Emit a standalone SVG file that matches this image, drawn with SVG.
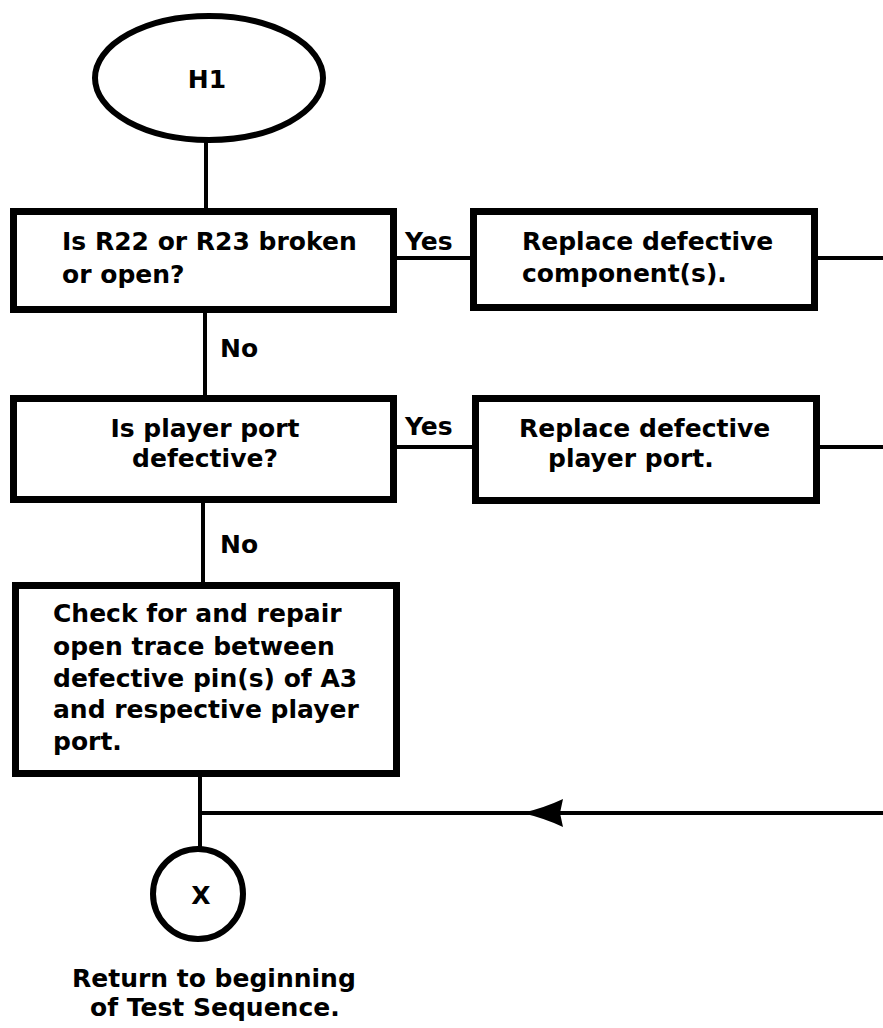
<svg xmlns="http://www.w3.org/2000/svg" width="883" height="1028" viewBox="0 0 883 1028">
<style>
.box{fill:#fff;stroke:#000;stroke-width:7}
.term{fill:#fff;stroke:#000;stroke-width:6}
.ln{fill:none;stroke:#000;stroke-width:4}
text{font-family:"DejaVu Sans","Liberation Sans",sans-serif;font-size:25px;font-weight:bold;fill:#000}
.c{text-anchor:middle}
</style>
<defs>
<marker id="arr" markerUnits="userSpaceOnUse" markerWidth="50" markerHeight="30" viewBox="-45 -15 50 30" refX="0" refY="0" orient="auto">
<path d="M0,0 Q-22,-5 -41,-14 L-38,0 L-41,14 Q-22,5 0,0 Z" fill="#000"/>
</marker>
</defs>
<g id="connectors">
<line class="ln" x1="206" y1="140" x2="206" y2="211"/>
<line class="ln" x1="397" y1="258" x2="473" y2="258"/>
<line class="ln" x1="815" y1="258" x2="883" y2="258"/>
<line class="ln" x1="205" y1="310" x2="205" y2="398"/>
<line class="ln" x1="397" y1="447" x2="475" y2="447"/>
<line class="ln" x1="817" y1="447" x2="883" y2="447"/>
<line class="ln" x1="203" y1="500" x2="203" y2="585"/>
<line class="ln" x1="200" y1="774" x2="200" y2="849"/>
<path class="ln" d="M883,813 L522,813 L200,813" marker-mid="url(#arr)"/>
<text x="405" y="250">Yes</text>
<text x="220" y="357">No</text>
<text x="405" y="435">Yes</text>
<text x="220" y="553">No</text>
</g>
<g id="h1">
<ellipse class="term" cx="209" cy="78" rx="114" ry="62"/>
<text class="c" x="207" y="88">H1</text>
</g>
<g id="q1">
<rect class="box" x="13.5" y="211.5" width="380" height="98"/>
<text x="62" y="250">Is R22 or R23 broken</text>
<text x="62" y="283">or open?</text>
</g>
<g id="a1">
<rect class="box" x="473.5" y="211.5" width="341" height="96"/>
<text x="522" y="250">Replace defective</text>
<text x="522" y="282">component(s).</text>
</g>
<g id="q2">
<rect class="box" x="13.5" y="398.5" width="380" height="101"/>
<text class="c" x="205" y="437">Is player port</text>
<text class="c" x="205" y="467">defective?</text>
</g>
<g id="a2">
<rect class="box" x="475.5" y="398.5" width="341" height="102"/>
<text x="519" y="437">Replace defective</text>
<text x="548" y="467">player port.</text>
</g>
<g id="repair">
<rect class="box" x="15.5" y="585.5" width="381" height="188"/>
<text x="53" y="622">Check for and repair</text>
<text x="53" y="655">open trace between</text>
<text x="53" y="687">defective pin(s) of A3</text>
<text x="53" y="718">and respective player</text>
<text x="53" y="750">port.</text>
</g>
<g id="x">
<circle class="term" cx="198" cy="894" r="45"/>
<text class="c" x="201" y="904">X</text>
</g>
<g id="note">
<text x="72" y="987">Return to beginning</text>
<text x="90" y="1016">of Test Sequence.</text>
</g>
</svg>
